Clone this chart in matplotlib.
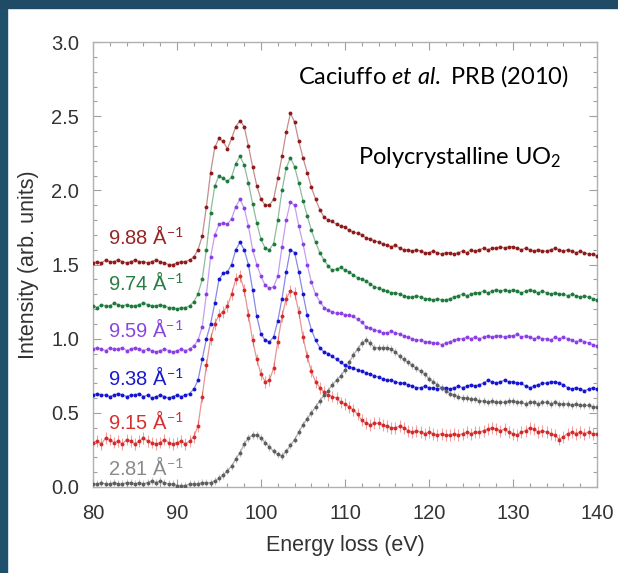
import numpy as np
import matplotlib
matplotlib.use("Agg")
import matplotlib.pyplot as plt
from matplotlib.patches import Rectangle
from matplotlib.ticker import MultipleLocator

plt.rcParams['font.family'] = ['Liberation Sans', 'DejaVu Sans']
plt.rcParams['mathtext.fontset'] = 'custom'
plt.rcParams['mathtext.rm'] = 'Lato'
plt.rcParams['mathtext.it'] = 'Lato:italic'

# energy grid (eV), one point every 0.5 eV
energy = np.arange(80, 140.25, 0.5)

q_labels = ["9.88", "9.74", "9.59", "9.38", "9.15", "2.81"]

i_988 = [1.51,1.52,1.51,1.53,1.52,1.52,1.53,1.52,1.51,1.52,
         1.53,1.52,1.52,1.51,1.52,1.53,1.52,1.51,1.50,1.50,
         1.51,1.52,1.52,1.53,1.55,1.60,1.69,1.89,2.12,2.29,
         2.35,2.33,2.28,2.35,2.43,2.47,2.43,2.30,2.16,2.03,
         1.94,1.90,1.90,1.94,2.08,2.23,2.39,2.52,2.46,2.33,
         2.22,2.12,2.02,1.94,1.87,1.82,1.80,1.79,1.77,1.76,
         1.75,1.73,1.72,1.71,1.70,1.68,1.67,1.66,1.65,1.64,
         1.63,1.62,1.63,1.61,1.60,1.60,1.59,1.60,1.59,1.58,
         1.58,1.59,1.58,1.57,1.58,1.58,1.57,1.58,1.59,1.58,
         1.60,1.59,1.60,1.61,1.60,1.61,1.61,1.62,1.61,1.62,
         1.62,1.61,1.60,1.61,1.60,1.59,1.60,1.59,1.59,1.60,
         1.61,1.60,1.59,1.60,1.59,1.58,1.59,1.58,1.57,1.57,
         1.56]

i_974 = [1.22,1.21,1.23,1.22,1.22,1.24,1.23,1.22,1.23,1.22,
         1.22,1.23,1.24,1.23,1.22,1.22,1.23,1.22,1.21,1.21,
         1.20,1.21,1.21,1.22,1.25,1.30,1.40,1.60,1.85,2.03,
         2.10,2.08,2.06,2.09,2.18,2.23,2.17,2.05,1.91,1.78,
         1.67,1.61,1.60,1.64,1.80,2.00,2.15,2.22,2.16,2.05,
         1.93,1.83,1.73,1.65,1.58,1.53,1.49,1.46,1.47,1.48,
         1.46,1.45,1.43,1.41,1.40,1.39,1.37,1.35,1.34,1.33,
         1.32,1.31,1.31,1.30,1.29,1.28,1.28,1.29,1.28,1.27,
         1.27,1.26,1.27,1.26,1.26,1.27,1.28,1.29,1.30,1.29,
         1.30,1.31,1.31,1.32,1.31,1.32,1.33,1.32,1.33,1.32,
         1.33,1.32,1.31,1.32,1.33,1.32,1.31,1.32,1.31,1.30,
         1.31,1.30,1.30,1.29,1.30,1.29,1.28,1.29,1.28,1.27,
         1.26]

i_959 = [0.93,0.94,0.93,0.92,0.94,0.93,0.93,0.94,0.92,0.93,
         0.94,0.93,0.92,0.93,0.92,0.91,0.92,0.93,0.92,0.91,
         0.92,0.93,0.92,0.93,0.95,0.99,1.08,1.30,1.55,1.70,
         1.77,1.78,1.77,1.81,1.89,1.94,1.88,1.76,1.60,1.50,
         1.42,1.36,1.34,1.35,1.42,1.62,1.80,1.92,1.90,1.76,
         1.64,1.50,1.38,1.30,1.25,1.21,1.19,1.18,1.17,1.17,
         1.16,1.16,1.15,1.13,1.11,1.08,1.07,1.06,1.05,1.04,
         1.04,1.05,1.04,1.03,1.02,1.01,1.00,0.99,0.99,0.98,
         0.98,0.97,0.97,0.96,0.97,0.98,0.99,1.00,1.00,1.01,
         1.00,1.01,1.00,1.01,1.02,1.01,1.02,1.02,1.01,1.02,
         1.02,1.03,1.01,1.02,1.01,1.00,1.01,1.00,1.00,0.99,
         1.01,1.00,1.01,1.00,0.99,0.98,0.99,0.98,0.97,0.96,
         0.95]

i_938 = [0.62,0.63,0.62,0.62,0.61,0.62,0.63,0.62,0.61,0.62,
         0.62,0.63,0.61,0.62,0.60,0.61,0.62,0.61,0.60,0.61,
         0.62,0.61,0.62,0.63,0.66,0.72,0.86,1.00,1.10,1.24,
         1.40,1.44,1.45,1.50,1.60,1.65,1.60,1.50,1.33,1.15,
         1.03,0.99,0.98,1.01,1.12,1.27,1.45,1.60,1.58,1.45,
         1.30,1.16,1.06,0.99,0.94,0.91,0.90,0.88,0.86,0.84,
         0.82,0.81,0.80,0.79,0.78,0.77,0.76,0.75,0.74,0.73,
         0.72,0.72,0.71,0.70,0.70,0.69,0.68,0.67,0.67,0.68,
         0.67,0.67,0.66,0.67,0.67,0.66,0.67,0.68,0.67,0.68,
         0.69,0.68,0.69,0.70,0.72,0.71,0.70,0.71,0.72,0.71,
         0.71,0.70,0.70,0.68,0.67,0.68,0.69,0.70,0.70,0.71,
         0.71,0.70,0.69,0.67,0.66,0.67,0.66,0.65,0.66,0.67,
         0.66]

i_915 = [0.30,0.31,0.29,0.33,0.32,0.30,0.31,0.29,0.32,0.31,
         0.29,0.31,0.33,0.31,0.30,0.29,0.30,0.32,0.30,0.29,
         0.30,0.31,0.29,0.31,0.34,0.41,0.61,0.82,1.00,1.10,
         1.16,1.18,1.22,1.30,1.40,1.42,1.33,1.16,0.99,0.86,
         0.76,0.71,0.72,0.80,0.98,1.15,1.27,1.32,1.31,1.18,
         1.01,0.88,0.78,0.71,0.67,0.64,0.62,0.61,0.60,0.57,
         0.56,0.54,0.52,0.49,0.45,0.43,0.42,0.43,0.43,0.42,
         0.41,0.40,0.40,0.41,0.40,0.38,0.37,0.38,0.37,0.36,
         0.37,0.36,0.35,0.36,0.35,0.35,0.36,0.35,0.36,0.37,
         0.36,0.37,0.37,0.38,0.39,0.40,0.39,0.38,0.39,0.37,
         0.36,0.35,0.37,0.38,0.40,0.39,0.37,0.38,0.37,0.36,
         0.35,0.32,0.34,0.36,0.37,0.36,0.37,0.36,0.37,0.36,
         0.36]

i_281 = [0.02,0.02,0.03,0.02,0.02,0.03,0.02,0.02,0.03,0.03,
         0.02,0.03,0.02,0.03,0.04,0.03,0.04,0.03,0.02,0.02,
         0.01,0.01,0.01,0.02,0.02,0.02,0.03,0.03,0.03,0.04,
         0.06,0.08,0.11,0.14,0.19,0.23,0.29,0.33,0.35,0.35,
         0.33,0.30,0.27,0.24,0.22,0.21,0.24,0.28,0.32,0.37,
         0.42,0.46,0.50,0.54,0.58,0.62,0.65,0.69,0.72,0.75,
         0.79,0.84,0.89,0.93,0.97,0.99,0.97,0.94,0.94,0.94,
         0.94,0.93,0.91,0.88,0.86,0.84,0.82,0.80,0.78,0.76,
         0.73,0.71,0.69,0.67,0.65,0.63,0.62,0.61,0.60,0.60,
         0.59,0.59,0.58,0.58,0.57,0.58,0.57,0.57,0.57,0.58,
         0.58,0.57,0.57,0.56,0.57,0.57,0.56,0.57,0.57,0.56,
         0.57,0.56,0.56,0.56,0.55,0.56,0.55,0.55,0.55,0.54,
         0.54]

err_915 = 0.04
err_281 = 0.025

curves = [i_988, i_974, i_959, i_938, i_915, i_281]
colors = ["#8e1b1b", "#1e7a3c", "#8a3fe4", "#1414d2", "#d62a2a", "#5e5e5e"]
label_colors = ["#9a2323", "#2a7d44", "#8a46e0", "#1a1ad0", "#d83030", "#8a8a8a"]
label_y = [1.69, 1.38, 1.06, 0.735, 0.44, 0.13]

fig = plt.figure(figsize=(6.18, 5.73), dpi=100)
fig.patches.append(Rectangle((0, 0), 7/618, 1, transform=fig.transFigure, color="#21506c", zorder=0))
fig.patches.append(Rectangle((0, 1-8/573), 1, 8/573, transform=fig.transFigure, color="#1f4b66", zorder=0))

ax = fig.add_axes([93/618, 1-487/573, 504/618, 445/573])

for k in range(len(curves)):
    c = colors[k]
    if k == 4:
        ax.errorbar(energy, curves[k], yerr=err_915, fmt='none', ecolor="#f3a0a0", elinewidth=0.8, zorder=1)
    if k == 5:
        ax.errorbar(energy, curves[k], yerr=err_281, fmt='none', ecolor="#c8c8c8", elinewidth=0.8, zorder=1)
    ax.plot(energy, curves[k], '-', color=c, lw=0.9, alpha=0.5, zorder=2)
    ax.plot(energy, curves[k], 'o', color=c, ms=2.8, mew=0, zorder=3)
    ax.text(81.8, label_y[k], q_labels[k] + u" \u00c5$^{-1}$", color=label_colors[k],
            fontsize=14.5, va='center', ha='left')

ax.set_xlim(80, 140)
ax.set_ylim(0, 3.0)
ax.xaxis.set_major_locator(MultipleLocator(10))
ax.xaxis.set_minor_locator(MultipleLocator(2))
ax.yaxis.set_major_locator(MultipleLocator(0.5))
ax.yaxis.set_minor_locator(MultipleLocator(0.1))
ax.yaxis.set_major_formatter(plt.FormatStrFormatter('%.1f'))
ax.tick_params(which='both', direction='in', top=True, right=True, color="#a0a0a0",
               labelsize=14.5, labelcolor="#333333")
ax.tick_params(axis='x', pad=12)
ax.tick_params(axis='y', pad=10)
ax.tick_params(which='major', length=6, width=0.8)
ax.tick_params(which='minor', length=3, width=0.8)
for s in ax.spines.values():
    s.set_color("#b0b0b0")
    s.set_linewidth(1)

ax.set_xlabel("Energy loss (eV)", fontsize=15.5, color="#333333", labelpad=9)
ax.set_ylabel("Intensity (arb. units)", fontsize=15.5, color="#333333", labelpad=9)

ax.text(136.7, 2.77, "Caciuffo $et$ $al.$ PRB (2010)", family='Lato', fontsize=17,
        ha='right', va='center', color='black')
ax.text(135.8, 2.22, "Polycrystalline UO$_2$", family='Lato', fontsize=17,
        ha='right', va='center', color='black')

fig.savefig("out.png", dpi=100, facecolor='white')
